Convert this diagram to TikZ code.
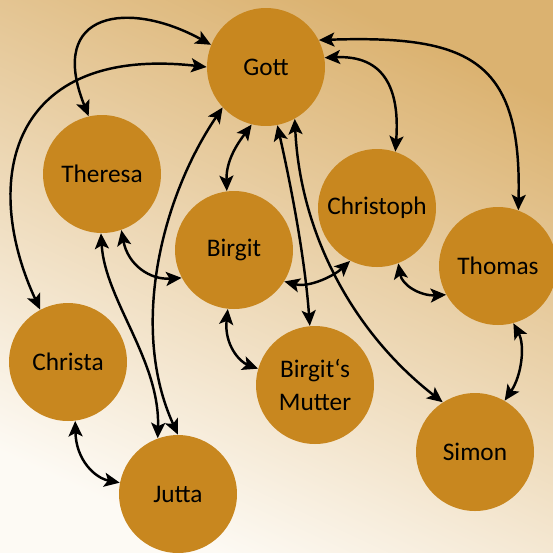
\documentclass[tikz,border=0pt]{standalone}
\usepackage{fontspec}
\setmainfont{Carlito}
\usetikzlibrary{arrows.meta}
\definecolor{bgdark}{RGB}{219,178,112}
\definecolor{bglight}{RGB}{253,250,244}
\definecolor{amber}{RGB}{200,135,31}
\tikzset{
  person/.style = {
    circle, fill=amber, minimum size=2.36cm, inner sep=0pt,
    font=\fontsize{14.4}{18.5}\selectfont, align=center
  },
  rel/.style = {<->, line width=1.4pt}
}
\tikzset{>={Stealth[length=3.1mm,width=2.8mm,inset=0.7mm]}}

\begin{document}
\begin{tikzpicture}[x=0.02cm,y=-0.02cm]
  \useasboundingbox (0,0) rectangle (553,552);
  % background
  \shade[top color=bgdark,bottom color=bglight,shading angle=-25] (0,0) rectangle (553,552);
  % persons
  \node[person] (gott)      at (266,67)  {Gott};
  \node[person] (theresa)   at (102,174) {Theresa};
  \node[person] (birgit)    at (234,250) {Birgit};
  \node[person] (christoph) at (377,208) {Christoph};
  \node[person] (thomas)    at (498,266) {Thomas};
  \node[person] (christa)   at (68,362)  {Christa};
  \node[person] (mutter)    at (315,385) {Birgit‘s\\Mutter};
  \node[person] (jutta)     at (178,494) {Jutta};
  \node[person] (simon)     at (475,452) {Simon};
  % relations to Gott
  \draw[rel] (theresa.103) .. controls (46,10) and (130,0) .. (gott.158);
  \draw[rel] (christa.118) .. controls (-20,180) and (10,45) .. (gott.180);
  \draw[rel] (gott.9) .. controls (385,55) and (400,90) .. (christoph.72);
  \draw[rel] (gott.27) .. controls (470,35) and (522,60) .. (thomas.70);
  \draw[rel] (gott.256) .. controls (238,143) and (226,160) .. (birgit.97);
  \draw[rel] (gott.223) .. controls (160,200) and (130,330) .. (jutta.90);
  \draw[rel] (gott.281) .. controls (292,190) and (305,260) .. (mutter.95);
  \draw[rel] (gott.299) .. controls (300,230) and (350,330) .. (simon.123);
  % other relations
  \draw[rel] (theresa.269) .. controls (105,300) and (160,360) .. (jutta.110);
  \draw[rel] (theresa.289) .. controls (128,265) and (150,280) .. (birgit.208);
  \draw[rel] (birgit.264) .. controls (224,345) and (240,362) .. (mutter.164);
  \draw[rel] (birgit.328) .. controls (310,288) and (335,275) .. (christoph.243);
  \draw[rel] (christoph.291) .. controls (402,285) and (420,296) .. (thomas.209);
  \draw[rel] (thomas.285) .. controls (525,345) and (522,375) .. (simon.60);
  \draw[rel] (christa.277) .. controls (76,460) and (95,478) .. (jutta.169);
\end{tikzpicture}
\end{document}
